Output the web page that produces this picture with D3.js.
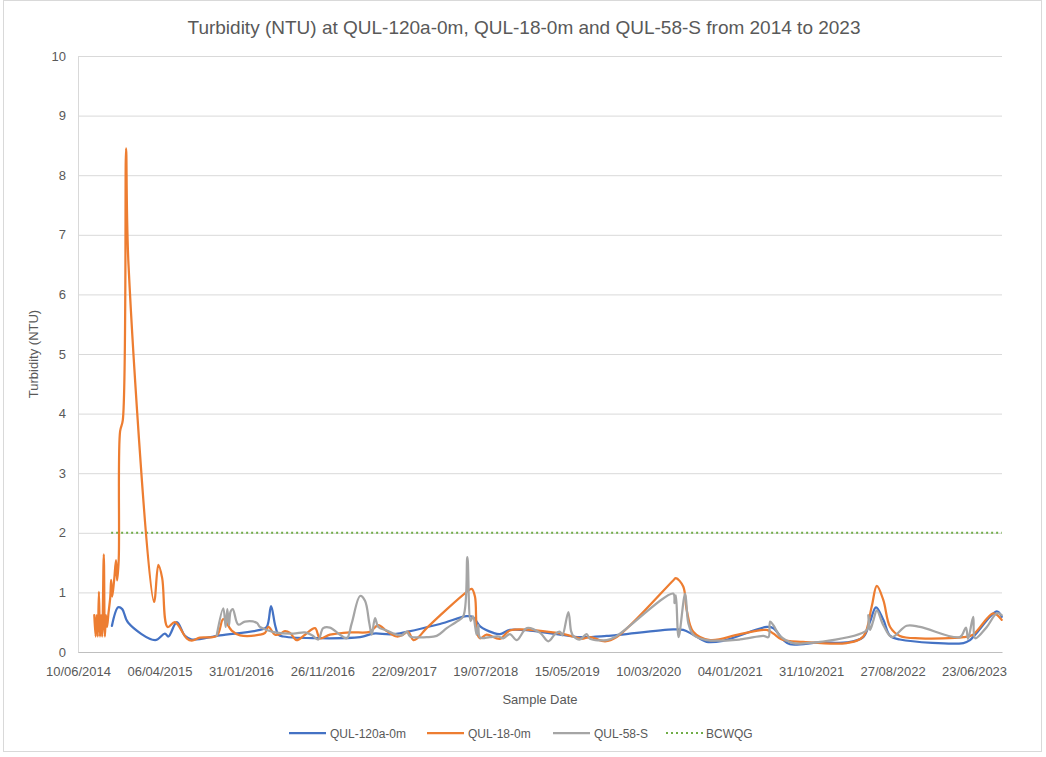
<!DOCTYPE html>
<html>
<head>
<meta charset="utf-8">
<script src="https://cdn.jsdelivr.net/npm/d3@7"></script>
<style>
    body { margin: 0; background: #ffffff; }
    text { font-family: "Liberation Sans", Arial, sans-serif; fill: #595959; }
</style>
</head>
<body>
<svg id="canvas" width="1046" height="757"></svg>
<script>
// values, [sample date, turbidity NTU]
let qul120 = [
    ["2014-10-13", 0.44], ["2014-11-05", 0.75], ["2014-11-20", 0.72], ["2014-12-12", 0.49],
    ["2015-03-21", 0.20], ["2015-04-26", 0.31], ["2015-05-09", 0.26], ["2015-06-09", 0.50],
    ["2015-07-09", 0.27], ["2015-08-03", 0.21], ["2015-11-15", 0.28], ["2016-04-10", 0.37],
    ["2016-05-05", 0.42], ["2016-05-21", 0.77], ["2016-06-05", 0.45], ["2016-06-17", 0.29],
    ["2016-07-05", 0.26], ["2017-04-14", 0.25], ["2017-06-02", 0.31], ["2017-08-14", 0.30],
    ["2018-02-02", 0.47], ["2018-05-12", 0.60], ["2018-06-05", 0.58], ["2018-06-30", 0.43],
    ["2018-08-18", 0.32], ["2018-09-11", 0.30], ["2018-10-18", 0.37], ["2018-12-31", 0.36],
    ["2019-04-08", 0.30], ["2019-07-03", 0.25], ["2019-10-09", 0.27], ["2020-06-10", 0.38],
    ["2020-07-17", 0.37], ["2020-08-23", 0.29], ["2020-10-11", 0.17], ["2020-12-12", 0.19],
    ["2021-05-20", 0.42], ["2021-06-14", 0.40], ["2021-07-21", 0.20], ["2021-08-14", 0.13],
    ["2021-12-03", 0.16], ["2022-03-11", 0.16], ["2022-05-11", 0.25], ["2022-06-05", 0.51],
    ["2022-06-27", 0.75], ["2022-07-24", 0.54], ["2022-08-18", 0.27], ["2022-09-23", 0.21],
    ["2023-05-15", 0.15], ["2023-06-08", 0.20], ["2023-09-15", 0.68], ["2023-10-03", 0.59]
];

let qul18 = [
    ["2014-08-09", 0.62], ["2014-08-14", 0.26], ["2014-08-18", 0.62], ["2014-08-22", 0.26],
    ["2014-08-26", 1.01], ["2014-08-30", 0.26], ["2014-09-03", 0.62], ["2014-09-07", 0.26],
    ["2014-09-13", 1.64], ["2014-09-17", 0.26], ["2014-09-21", 0.62], ["2014-09-25", 0.42],
    ["2014-09-30", 0.64], ["2014-10-07", 0.93], ["2014-10-10", 1.21], ["2014-10-14", 0.93],
    ["2014-10-21", 1.20], ["2014-10-28", 1.54], ["2014-11-01", 1.20], ["2014-11-07", 1.55],
    ["2014-11-12", 3.70], ["2014-11-22", 3.89], ["2014-12-04", 8.45], ["2014-12-13", 6.50],
    ["2015-03-17", 0.84], ["2015-04-02", 1.46], ["2015-04-16", 1.24], ["2015-05-06", 0.42],
    ["2015-06-02", 0.50], ["2015-07-15", 0.23], ["2015-08-03", 0.19], ["2015-09-02", 0.24],
    ["2015-11-03", 0.27], ["2015-11-27", 0.55], ["2015-12-28", 0.36], ["2016-01-28", 0.28],
    ["2016-04-10", 0.29], ["2016-04-29", 0.32], ["2016-05-11", 0.42], ["2016-06-05", 0.29],
    ["2016-06-23", 0.30], ["2016-07-11", 0.35], ["2016-07-30", 0.32], ["2016-08-23", 0.20],
    ["2016-09-23", 0.29], ["2016-10-30", 0.40], ["2016-11-17", 0.23], ["2016-12-24", 0.29],
    ["2017-03-08", 0.33], ["2017-05-20", 0.34], ["2017-06-20", 0.45], ["2017-07-21", 0.35],
    ["2017-08-27", 0.26], ["2017-09-19", 0.29], ["2017-10-08", 0.34], ["2017-10-27", 0.20],
    ["2017-11-13", 0.24], ["2017-12-15", 0.40], ["2018-05-12", 1.01], ["2018-05-30", 1.06],
    ["2018-06-11", 0.93], ["2018-06-20", 0.29], ["2018-06-30", 0.23], ["2018-07-24", 0.29],
    ["2018-09-11", 0.22], ["2018-10-18", 0.36], ["2019-04-08", 0.32], ["2019-06-08", 0.26],
    ["2019-07-09", 0.22], ["2019-08-09", 0.25], ["2019-10-03", 0.18], ["2019-11-15", 0.25],
    ["2020-06-10", 1.20], ["2020-06-20", 1.24], ["2020-07-17", 1.10], ["2020-07-30", 0.70],
    ["2020-08-23", 0.34], ["2020-10-24", 0.20], ["2021-02-11", 0.30], ["2021-05-20", 0.37],
    ["2021-06-14", 0.31], ["2021-07-15", 0.21], ["2021-10-01", 0.17], ["2022-03-11", 0.15],
    ["2022-05-11", 0.26], ["2022-06-11", 0.76], ["2022-06-30", 1.11], ["2022-07-24", 0.87],
    ["2022-08-18", 0.42], ["2022-09-23", 0.27], ["2022-12-06", 0.23], ["2023-05-15", 0.25],
    ["2023-06-19", 0.29], ["2023-09-02", 0.65], ["2023-10-03", 0.54]
];

let qul58 = [
    ["2015-11-03", 0.28], ["2015-11-27", 0.73], ["2015-12-06", 0.42], ["2015-12-12", 0.72],
    ["2015-12-18", 0.45], ["2015-12-24", 0.68], ["2016-01-01", 0.72], ["2016-01-21", 0.46],
    ["2016-02-15", 0.51], ["2016-03-29", 0.49], ["2016-04-10", 0.42], ["2016-05-05", 0.37],
    ["2016-06-05", 0.33], ["2016-08-11", 0.31], ["2016-09-23", 0.33], ["2016-10-19", 0.28],
    ["2016-11-11", 0.21], ["2016-11-29", 0.40], ["2016-12-24", 0.41], ["2017-01-30", 0.29],
    ["2017-02-24", 0.23], ["2017-03-14", 0.48], ["2017-04-14", 0.94], ["2017-05-02", 0.86],
    ["2017-05-18", 0.48], ["2017-05-27", 0.29], ["2017-06-08", 0.57], ["2017-06-20", 0.42],
    ["2017-07-21", 0.36], ["2017-08-21", 0.30], ["2017-09-15", 0.28], ["2017-10-03", 0.34],
    ["2017-10-15", 0.26], ["2017-12-15", 0.25], ["2018-01-21", 0.27], ["2018-02-27", 0.40],
    ["2018-04-05", 0.51], ["2018-04-29", 0.60], ["2018-05-14", 1.59], ["2018-05-26", 0.52],
    ["2018-06-04", 0.60], ["2018-06-17", 0.29], ["2018-06-23", 0.45], ["2018-06-30", 0.24],
    ["2018-08-05", 0.25], ["2018-09-05", 0.26], ["2018-09-23", 0.23], ["2018-10-18", 0.30],
    ["2018-11-12", 0.20], ["2018-12-19", 0.40], ["2019-02-06", 0.32], ["2019-03-08", 0.18],
    ["2019-04-02", 0.30], ["2019-04-20", 0.34], ["2019-04-29", 0.28], ["2019-05-21", 0.67],
    ["2019-05-31", 0.35], ["2019-06-08", 0.27], ["2019-07-03", 0.21], ["2019-07-27", 0.30],
    ["2019-08-09", 0.22], ["2019-10-09", 0.20], ["2019-11-09", 0.25], ["2020-06-10", 0.98],
    ["2020-06-15", 0.82], ["2020-06-20", 0.95], ["2020-06-30", 0.25], ["2020-07-24", 0.98],
    ["2020-08-05", 0.48], ["2020-08-23", 0.29], ["2020-10-11", 0.20], ["2021-02-11", 0.21],
    ["2021-05-08", 0.27], ["2021-05-27", 0.25], ["2021-06-02", 0.51], ["2021-06-14", 0.45],
    ["2021-07-08", 0.27], ["2021-08-26", 0.15], ["2021-10-15", 0.15], ["2021-12-03", 0.17],
    ["2022-05-24", 0.37], ["2022-05-30", 0.62], ["2022-06-05", 0.37], ["2022-06-18", 0.54],
    ["2022-06-30", 0.70], ["2022-07-24", 0.45], ["2022-08-24", 0.25], ["2022-10-18", 0.44],
    ["2022-12-06", 0.42], ["2023-05-02", 0.25], ["2023-05-24", 0.41], ["2023-06-01", 0.22],
    ["2023-06-20", 0.59], ["2023-06-27", 0.23], ["2023-08-09", 0.42], ["2023-09-15", 0.65],
    ["2023-10-03", 0.62]
];

let bcwqgDates = ["2014-10-10", "2023-10-03"];
let bcwqgValue = 2;

let seriesNames = ["QUL-120a-0m", "QUL-18-0m", "QUL-58-S", "BCWQG"];
let seriesColors = ["#4472c4", "#ed7d31", "#a5a5a5", "#70ad47"];

let xTickLabels = ["10/06/2014", "06/04/2015", "31/01/2016", "26/11/2016", "22/09/2017", "19/07/2018",
    "15/05/2019", "10/03/2020", "04/01/2021", "31/10/2021", "27/08/2022", "23/06/2023"];
let yTickValues = [0, 1, 2, 3, 4, 5, 6, 7, 8, 9, 10];

let parseIso = d3.timeParse("%Y-%m-%d");
let parseLabel = d3.timeParse("%d/%m/%Y");

let canvas = d3.select("#canvas");

// chart border
canvas.append('rect')
    .attr('x', 3.5).attr('y', 0.5)
    .attr('width', 1038).attr('height', 751)
    .attr('fill', 'none')
    .attr('stroke', '#d9d9d9');

let xScale = d3.scaleTime()
    .domain([parseIso("2014-06-10"), parseIso("2023-10-04")])
    .range([78, 1002]);

let yScale = d3.scaleLinear()
    .domain([0, 10])
    .range([652, 56]);

// gridlines + y labels
let yAxis = d3.axisLeft(yScale)
    .tickValues(yTickValues)
    .tickSize(-(1002 - 78))
    .tickPadding(12)
    .tickFormat(d3.format('d'));

let yG = canvas.append('g')
    .attr('transform', 'translate(78, 0)')
    .call(yAxis);
yG.select('.domain').attr('stroke', '#d9d9d9');
yG.selectAll('.tick line').attr('stroke', '#d9d9d9');
yG.selectAll('.tick text')
    .style('font-size', '13px')
    .style('fill', '#595959');

let xAxis = d3.axisBottom(xScale)
    .tickValues(xTickLabels.map(parseLabel))
    .tickSize(0)
    .tickSizeOuter(0)
    .tickPadding(15)
    .tickFormat(d3.timeFormat("%d/%m/%Y"));

let xG = canvas.append('g')
    .attr('transform', 'translate(0, 652)')
    .call(xAxis);
xG.select('.domain').attr('stroke', '#bfbfbf');
xG.selectAll('.tick text')
    .style('font-size', '13px')
    .style('fill', '#595959');

// guideline
canvas.append('line')
    .attr('x1', xScale(parseIso(bcwqgDates[0])))
    .attr('x2', xScale(parseIso(bcwqgDates[1])))
    .attr('y1', yScale(bcwqgValue))
    .attr('y2', yScale(bcwqgValue))
    .attr('stroke', seriesColors[3])
    .attr('stroke-width', 2)
    .attr('stroke-dasharray', '2,3');

let line = d3.line()
    .x((d) => xScale(parseIso(d[0])))
    .y((d) => yScale(d[1]))
    .curve(d3.curveCatmullRom);

[qul120, qul18, qul58].forEach((series, i) => {
    canvas.append('path')
        .datum(series)
        .attr('d', line)
        .attr('fill', 'none')
        .attr('stroke', seriesColors[i])
        .attr('stroke-width', 2.25)
        .attr('stroke-linejoin', 'round')
        .attr('stroke-linecap', 'round');
});

// titles
canvas.append('text')
    .attr('x', 524)
    .attr('y', 34)
    .attr('text-anchor', 'middle')
    .style('font-size', '19px')
    .text('Turbidity (NTU) at QUL-120a-0m, QUL-18-0m and QUL-58-S from 2014 to 2023');

canvas.append('text')
    .attr('transform', 'translate(38, 354) rotate(-90)')
    .attr('text-anchor', 'middle')
    .style('font-size', '13px')
    .text('Turbidity (NTU)');

canvas.append('text')
    .attr('x', 540)
    .attr('y', 704)
    .attr('text-anchor', 'middle')
    .style('font-size', '13px')
    .text('Sample Date');

// legend
let legendX = [289, 427, 553, 666];
let legend = canvas.selectAll('.legend')
    .data(seriesNames)
    .enter()
    .append('g')
    .attr('class', 'legend')
    .attr('transform', (d, i) => 'translate(' + legendX[i] + ', 733)');

legend.append('line')
    .attr('x1', 0).attr('x2', 37)
    .attr('y1', 0).attr('y2', 0)
    .attr('stroke', (d, i) => seriesColors[i])
    .attr('stroke-width', (d, i) => i === 3 ? 2 : 2.25)
    .attr('stroke-dasharray', (d, i) => i === 3 ? '2,3' : null);

legend.append('text')
    .attr('x', (d, i) => i === 3 ? 40 : 41)
    .attr('y', 4.5)
    .style('font-size', '12px')
    .text((d) => d);
</script>
</body>
</html>
